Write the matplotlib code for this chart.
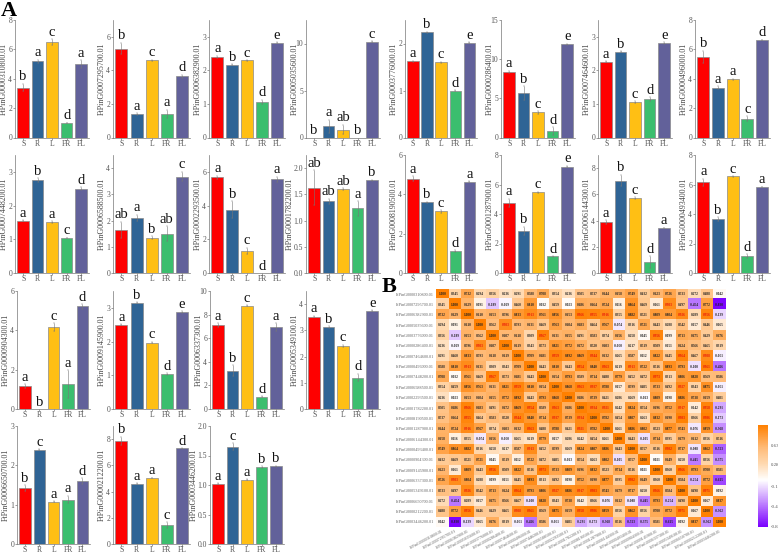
import numpy as np
import matplotlib
matplotlib.use("Agg")
import matplotlib.pyplot as plt
from matplotlib.colors import LinearSegmentedColormap, Normalize
from matplotlib.cm import ScalarMappable

plt.rcParams['font.family'] = ['Liberation Serif', 'DejaVu Serif']

W, H = 778, 553
tissues = ['S', 'R', 'L', 'FR', 'FL']
bar_colors = ['#FE0000', '#2F6495', '#FFBF14', '#3BBE6E', '#62619A']

genes = ['FtPinG0000310800.01', 'FtPinG0007295700.01', 'FtPinG0006382900.01', 'FtPinG0005035600.01',
         'FtPinG0003776000.01', 'FtPinG0000286400.01', 'FtPinG0007464600.01', 'FtPinG0000496000.01',
         'FtPinG0007448200.01', 'FtPinG0006588500.01', 'FtPinG0002293500.01', 'FtPinG0001782200.01',
         'FtPinG0008190500.01', 'FtPinG0001287900.01', 'FtPinG0006144300.01', 'FtPinG0000493400.01',
         'FtPinG0000904300.01', 'FtPinG0009145900.01', 'FtPinG0006337300.01', 'FtPinG0005349100.01',
         'FtPinG0006650700.01', 'FtPinG0000212200.01', 'FtPinG0003446200.01']

means = [[3.4, 5.2, 6.5, 1.0, 5.0], [5.3, 1.4, 4.6, 1.4, 3.65], [2.4, 2.17, 2.3, 1.06, 2.82],
         [0, 1.2, .85, 0, 10.2], [1.62, 2.24, 1.6, 1.0, 2.02], [8.4, 5.65, 3.2, .85, 11.9],
         [2.26, 2.56, 1.05, 1.15, 2.82], [5.5, 3.4, 3.95, 1.28, 6.65],
         [1.55, 2.76, 1.5, 1.04, 2.5], [1.65, 2.1, 1.35, 1.5, 3.68], [5.68, 3.75, 1.3, 0, 5.55],
         [1.63, 1.37, 1.6, 1.23, 1.77], [4.8, 3.6, 3.13, 1.1, 4.65], [4.75, 2.85, 5.47, 1.12, 7.22],
         [3.88, 7.05, 5.73, .85, 3.42], [6.15, 3.65, 6.55, 1.15, 5.83],
         [1.15, 0, 4.15, 1.28, 5.22], [2.5, 3.15, 1.97, 1.04, 2.87], [7.1, 3.25, 8.75, 1.03, 6.95],
         [3.52, 3.12, 2.4, 1.2, 3.75],
         [1.42, 2.4, 1.08, 1.13, 1.6], [7.87, 4.6, 5.05, 1.43, 7.3], [1.02, 1.65, 1.09, 1.3, 1.32]]
errors = [[.25, .1, .2, .02, .25], [.35, .05, .03, .25, .08], [.04, .02, .01, .06, .01],
          [0, .7, .5, 0, .02], [.01, .01, .01, .01, .01], [.15, .9, .15, .5, .05],
          [.01, .01, .03, .05, .02], [.4, .1, .05, .15, .02],
          [.01, .05, .03, .01, .04], [.3, .12, .05, .28, .18], [.08, .5, .2, 0, .15],
          [.33, .05, .02, .14, .01], [.12, .02, .07, .05, .02], [.3, .3, .05, .02, .05],
          [.15, .45, .07, .45, .02], [.25, .15, .03, .12, .03],
          [.1, 0, .2, .7, .12], [.02, .02, .02, .02, .03], [.15, .45, .05, .03, .3],
          [.03, .03, .05, .15, .01],
          [.08, .01, .01, .1, .08], [.3, .03, .02, .22, .02], [.01, .06, .01, .02, .01]]
letters = ['b a c d a', 'b a c a d', 'a b c d e', 'b a ab b c', 'a b c d e', 'a b c d e', 'a b c d e', 'b a a c d',
           'a b a c d', 'ab a b ab c', 'a b c d a', 'ab ab ab a b', 'a b c d a', 'a b c d e', 'a b c d a', 'a b c d a',
           'a b c a d', 'a b c d e', 'a b c d a', 'a b c d e',
           'b c a a d', 'b a a c d', 'a c a b b']
y_tops = [8, 7, 3.5, 12.5, 2.5, 15, 3.5, 8,
          3.5, 4.5, 7, 2.25, 6, 8, 9, 8,
          6, 3.5, 10, 4.5,
          3, 9, 2.0]
y_steps = [2, 2, 1, 5, 1, 5, 1, 2,
           1, 1, 2, .5, 2, 2, 2, 2,
           2, 1, 2, 1,
           1, 2, .5]

corr = [
[1,.345,.732,.294,.356,.236,.291,.588,.708,.354,.236,.505,.537,.644,.658,.749,.432,.623,.726,.533,.272,.488,.042],
[.345,1,.629,.091,-.189,-.029,.460,.810,.032,.459,.023,.686,.664,.724,.116,.864,.469,.161,.903,.497,-.454,.772,-.830],
[.732,.629,1,.610,.653,.596,.833,.913,.761,.856,.653,.966,.955,.916,.355,.882,.521,.809,.804,.926,.289,.956,-.139],
[.294,.091,.610,1,.562,.903,.593,.631,.469,.763,.604,.683,.464,.767,-.074,.316,.721,.443,.288,.542,.157,.446,.165],
[.356,-.189,.653,.562,1,.607,.618,.309,.967,.631,.655,.491,.583,.374,.656,.258,.045,.956,.099,.713,.675,.429,.676],
[.236,-.029,.596,.903,.607,1,.619,.343,.573,.821,.772,.672,.520,.603,-.050,.217,.519,.509,.151,.624,.566,.465,.319],
[.291,.460,.833,.593,.618,.619,1,.709,.681,.959,.892,.869,.944,.632,.265,.587,.112,.822,.445,.964,.467,.908,-.051],
[.588,.810,.913,.631,.309,.343,.709,1,.443,.810,.443,.954,.840,.963,.219,.913,.722,.516,.893,.793,-.100,.961,-.466],
[.708,.032,.761,.469,.967,.573,.681,.443,1,.654,.793,.589,.714,.488,.779,.452,.472,.973,.313,.806,.828,.569,.586],
[.354,.459,.856,.763,.631,.821,.959,.810,.654,1,.868,.963,.937,.788,.157,.599,.405,.733,.492,.927,.343,.875,-.051],
[.236,.023,.653,.604,.655,.772,.892,.443,.793,.868,1,.686,.739,.421,.286,.269,-.013,.809,.098,.886,.738,.659,.401],
[.505,.686,.966,.683,.491,.672,.869,.954,.589,.963,.686,1,.934,.921,.242,.824,.554,.696,.752,.917,.142,.958,-.291],
[.537,.664,.955,.464,.583,.520,.944,.840,.714,.937,.739,.934,1,.782,.454,.807,.263,.832,.690,.983,.366,.986,-.173],
[.644,.724,.916,.767,.374,.603,.632,.963,.488,.788,.421,.921,.782,1,.261,.886,.802,.523,.877,.743,-.076,.859,-.368],
[.658,.116,.355,-.074,.656,-.050,.265,.219,.779,.157,.286,.242,.454,.261,1,.443,-.105,.714,.395,.679,.612,.356,.516],
[.749,.864,.882,.316,.258,.217,.587,.913,.452,.599,.269,.824,.807,.886,.443,1,.557,.516,.982,.717,-.088,.862,-.523],
[.432,.469,.521,.721,.045,.519,.112,.722,.472,.405,-.013,.554,.263,.802,-.105,.557,1,.021,.649,.250,-.445,.356,-.375],
[.623,.161,.809,.443,.956,.509,.822,.516,.973,.733,.809,.696,.832,.523,.714,.516,.021,1,.360,.966,.793,.700,.581],
[.726,.903,.804,.288,.099,.151,.445,.893,.313,.492,.098,.752,.690,.877,.395,.982,.649,.360,1,.584,-.254,.772,-.615],
[.533,.497,.926,.542,.713,.624,.964,.793,.806,.927,.886,.917,.983,.743,.679,.717,.250,.966,.584,1,.498,.971,.092],
[.272,-.454,.289,.157,.675,.566,.467,-.100,.828,.343,.738,.142,.366,-.076,.612,-.088,-.445,.793,-.254,.498,1,.167,.837],
[.488,.772,.956,.446,.429,.465,.908,.961,.569,.875,.659,.958,.986,.859,.356,.862,.356,.700,.772,.971,.167,1,-.362],
[.042,-.830,-.139,.165,.676,.319,-.051,-.466,.586,-.051,.401,-.291,-.173,-.368,.516,-.523,-.375,.581,-.615,.092,.837,-.362,1],
]
cbar_ticks = [-0.85, -0.48, -0.11, 0.28, 0.63]

# layout in reference pixels: left, right of each axes; top, bottom of each row
col_x = [(15, 89), (113, 190), (209, 285), (306, 380), (405, 477), (501, 575), (598, 672), (695, 770)]
row_y = [(20, 137.5), (155, 273), (291, 409), (426, 544)]
row_count = [8, 8, 4, 3]
col_x_low = [(17, 90), (113, 190), (210, 284), (306, 380)]

fig = plt.figure(figsize=(W / 100, H / 100), dpi=100, facecolor='white')


def px_axes(l, r, t, b):
    return fig.add_axes([l / W, 1 - b / H, (r - l) / W, (b - t) / H])


GRAY = '#555555'
idx = 0
for row, n in enumerate(row_count):
    for c in range(n):
        l, r = (col_x if row < 2 else col_x_low)[c]
        t, b = row_y[row]
        ax = px_axes(l, r, t, b)
        x = np.arange(5)
        ax.bar(x, means[idx], width=0.8, color=bar_colors, edgecolor='#8a8a8a', linewidth=0.5, zorder=2)
        for xi, m, e in zip(x, means[idx], errors[idx]):
            if e > 0:
                ax.errorbar(xi, m, yerr=e, color='#777777', elinewidth=0.4, capsize=0.8,
                            capthick=0.3, zorder=3)
        for xi, m, e, s in zip(x, means[idx], errors[idx], letters[idx].split()):
            ax.annotate(s, (xi, m + e), xytext=(0, 0.3), textcoords='offset points', ha='center',
                        va='bottom', fontsize=10.5, color='#111111', annotation_clip=False, zorder=5)
        ax.set_xlim(-0.56, 4.54)
        ax.set_ylim(0, y_tops[idx])
        step = y_steps[idx]
        ticks = np.arange(0, y_tops[idx] + 1e-9, step)
        ax.set_yticks(ticks)
        if step == .5:
            ax.set_yticklabels([f'{v:.1f}' for v in ticks])
        else:
            ax.set_yticklabels([f'{int(v)}' for v in ticks])
        ax.set_xticks(x)
        ax.set_xticklabels(tissues)
        ax.tick_params(axis='both', length=1.2, width=0.4, color=GRAY, labelcolor=GRAY, labelsize=5.5, pad=0.8)
        ax.tick_params(axis='x', labelsize=5.5, pad=0.4)
        for s in ['top', 'right']:
            ax.spines[s].set_visible(False)
        for s in ['left', 'bottom']:
            ax.spines[s].set_linewidth(0.5)
            ax.spines[s].set_color('#777777')
        off = 16 if step == .5 else 11
        fig.text((l - off) / W, 1 - ((t + b) / 2) / H, genes[idx], rotation=90, ha='center', va='center',
                 fontsize=5.8, color='#444444')
        idx += 1

# heatmap
hm_l, hm_r, hm_t, hm_b = 436, 726, 289, 527
cmap = LinearSegmentedColormap.from_list('po', [(0, '#7A00FF'), (0.25, '#C48CFF'), (0.46, '#FFFFFF'),
                                                (0.62, '#FFD9B0'), (0.78, '#FFBB77'), (1, '#FF8000')])
norm = Normalize(-0.85, 1.0)
hax = px_axes(hm_l, hm_r, hm_t, hm_b)
M = np.array(corr)
hax.imshow(M, cmap=cmap, norm=norm, aspect='auto', interpolation='nearest')
for i in range(23):
    for j in range(23):
        v = M[i, j]
        hax.text(j, i, f'{v:.3f}', ha='center', va='center', fontsize=2.5, fontweight='bold',
                 color='#E8140A' if (v > 0.9 and v < 1) else '#222222')
hax.set_xticks(range(23))
hax.set_yticks(range(23))
hax.set_yticklabels(genes, fontsize=3.1, color='#666666')
hax.set_xticklabels(genes, fontsize=3.0, color='#666666', rotation=28, ha='right', rotation_mode='anchor')
hax.tick_params(length=0, pad=1.5)
for s in hax.spines.values():
    s.set_visible(False)

# colorbar
cax = px_axes(758, 768, 425, 527)
cb = fig.colorbar(ScalarMappable(norm=norm, cmap=cmap), cax=cax)
cb.set_ticks(cbar_ticks)
cb.set_ticklabels([f'{t:.2f}' for t in cbar_ticks])
cb.ax.tick_params(length=0, labelsize=3.5, labelcolor='#555555', pad=2)
cb.outline.set_visible(False)

fig.text(1 / W, 1 - 15.5 / H, 'A', fontsize=16, fontweight='bold', ha='left', va='baseline', color='black')
fig.text(382 / W, 1 - 292 / H, 'B', fontsize=16, fontweight='bold', ha='left', va='baseline', color='black')

fig.savefig('out.png', dpi=100)
